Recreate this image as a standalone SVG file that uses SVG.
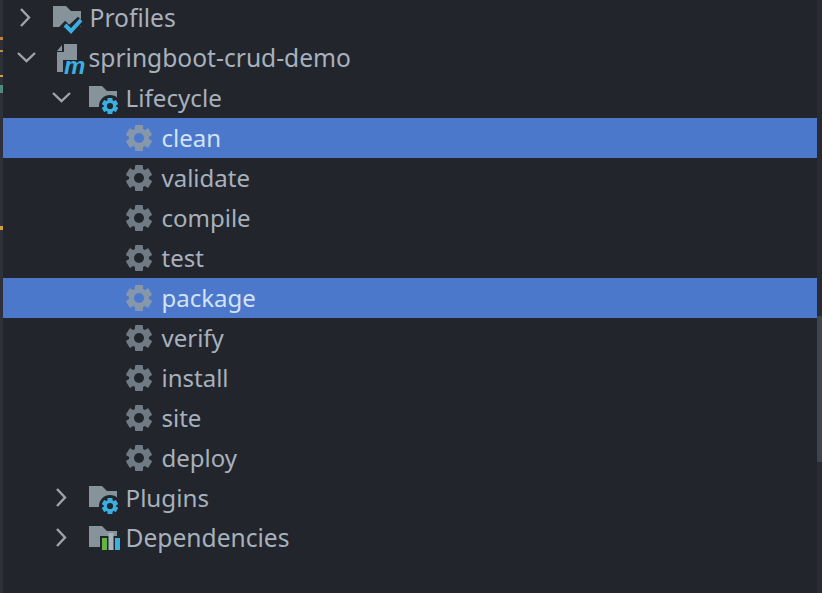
<svg xmlns="http://www.w3.org/2000/svg" width="822" height="593" viewBox="0 0 822 593">
<style>
text{font-family:"Noto Sans","Open Sans","Liberation Sans",sans-serif;font-size:24.6px;fill:#a7b1bd}
.leaf text{font-size:24px}
.sel text{fill:#d3e2f5}
.chev{fill:none;stroke:#a0a4a8;stroke-width:2.4}
.folder{fill:#87939a}
.blue{fill:#3ab0e2}
</style>
<defs>
<mask id="hole" maskUnits="userSpaceOnUse" x="-16" y="-16" width="32" height="32">
<rect x="-16" y="-16" width="32" height="32" fill="#fff"/><circle r="5" fill="#000"/>
</mask>
<g id="gear" mask="url(#hole)">
<circle r="10"/>
<rect x="-4" y="-13" width="8" height="26" rx="1"/>
<rect x="-4" y="-13" width="8" height="26" rx="1" transform="rotate(60)"/>
<rect x="-4" y="-13" width="8" height="26" rx="1" transform="rotate(120)"/>
</g>
<path id="fold" class="folder" d="M0 0H13L18 5H28V21H0Z"/>
<path id="right" class="chev" d="M0 0L8 8.500L0 17"/>
<path id="down" class="chev" d="M0 0L8.500 8L17 0"/>
</defs>
<rect width="822" height="593" fill="#22252c"/>
<g id="edges">
<rect width="3" height="593" fill="#2e3139"/>
<rect x="817" width="5" height="593" fill="#282b32"/>
<rect x="817" y="316" width="5" height="146" fill="#40444c"/>
<rect y="37" width="3" height="3" fill="#c9803f"/>
<rect y="50" width="3" height="2" fill="#c9903f"/>
<rect y="75" width="3" height="2" fill="#d0a040"/>
<rect y="85" width="3" height="8" fill="#4f8a80"/>
<rect y="226" width="3" height="4" fill="#d0a040"/>
</g>
<g id="rows-selected" fill="#4c78cc">
<rect x="3" y="118" width="814" height="40"/>
<rect x="3" y="278" width="814" height="40"/>
</g>
<g id="profiles">
<use href="#right" x="21" y="9"/>
<use href="#fold" x="53" y="6"/>
<path d="M62 24L69 31L81 20" fill="none" stroke="#22252c" stroke-width="9"/>
<path d="M65 25L71 31L81 20" fill="none" stroke="#3ab0e2" stroke-width="4"/>
<text x="89.500" y="27">Profiles</text>
</g>
<g id="project">
<use href="#down" x="18" y="53"/>
<path class="folder" d="M64 44H77V72H57V52H64Z"/>
<path class="folder" d="M62 45V51H57Z"/>
<path d="M63 60H85V76H63Z" fill="#22252c"/>
<text x="64" y="74" style="font-family:'Liberation Sans',sans-serif;font-size:24px;font-style:italic;font-weight:bold;fill:#3ab0e2">m</text>
<text x="88.500" y="67">springboot-crud-demo</text>
</g>
<g id="lifecycle">
<use href="#down" x="53" y="93"/>
<use href="#fold" x="89" y="86"/>
<circle cx="110" cy="106" r="11" fill="#22252c"/>
<use href="#gear" transform="translate(110 106) scale(.62)" class="blue"/>
<text x="125.500" y="107" style="font-size:24.200px">Lifecycle</text>
</g>
<g id="clean" class="sel leaf"><use href="#gear" transform="translate(139 138)" fill="#8697aa"/><text x="161.500" y="147">clean</text></g>
<g id="validate" class="leaf"><use href="#gear" transform="translate(139 178)" fill="#6f7a84"/><text x="161.500" y="187">validate</text></g>
<g id="compile" class="leaf"><use href="#gear" transform="translate(139 218)" fill="#6f7a84"/><text x="161.500" y="227">compile</text></g>
<g id="test" class="leaf"><use href="#gear" transform="translate(139 258)" fill="#6f7a84"/><text x="161.500" y="267">test</text></g>
<g id="package" class="sel leaf"><use href="#gear" transform="translate(139 298)" fill="#8697aa"/><text x="161.500" y="307">package</text></g>
<g id="verify" class="leaf"><use href="#gear" transform="translate(139 338)" fill="#6f7a84"/><text x="161.500" y="347">verify</text></g>
<g id="install" class="leaf"><use href="#gear" transform="translate(139 378)" fill="#6f7a84"/><text x="161.500" y="387">install</text></g>
<g id="site" class="leaf"><use href="#gear" transform="translate(139 418)" fill="#6f7a84"/><text x="161.500" y="427">site</text></g>
<g id="deploy" class="leaf"><use href="#gear" transform="translate(139 458)" fill="#6f7a84"/><text x="161.500" y="467">deploy</text></g>
<g id="plugins">
<use href="#right" x="57" y="489"/>
<use href="#fold" x="89" y="486"/>
<circle cx="110" cy="506" r="11" fill="#22252c"/>
<use href="#gear" transform="translate(110 506) scale(.62)" class="blue"/>
<text x="125.500" y="507" style="font-size:24.200px">Plugins</text>
</g>
<g id="dependencies">
<use href="#right" x="57" y="529"/>
<use href="#fold" x="89" y="526"/>
<path d="M100 536H122V552H100Z" fill="#22252c"/>
<rect x="102" y="538" width="5" height="12" fill="#62b543"/>
<rect x="108.500" y="533" width="5" height="17" fill="#a5b3bd"/>
<rect x="115" y="538" width="5" height="12" fill="#3ab0e2"/>
<text x="125.500" y="547">Dependencies</text>
</g>
</svg>
